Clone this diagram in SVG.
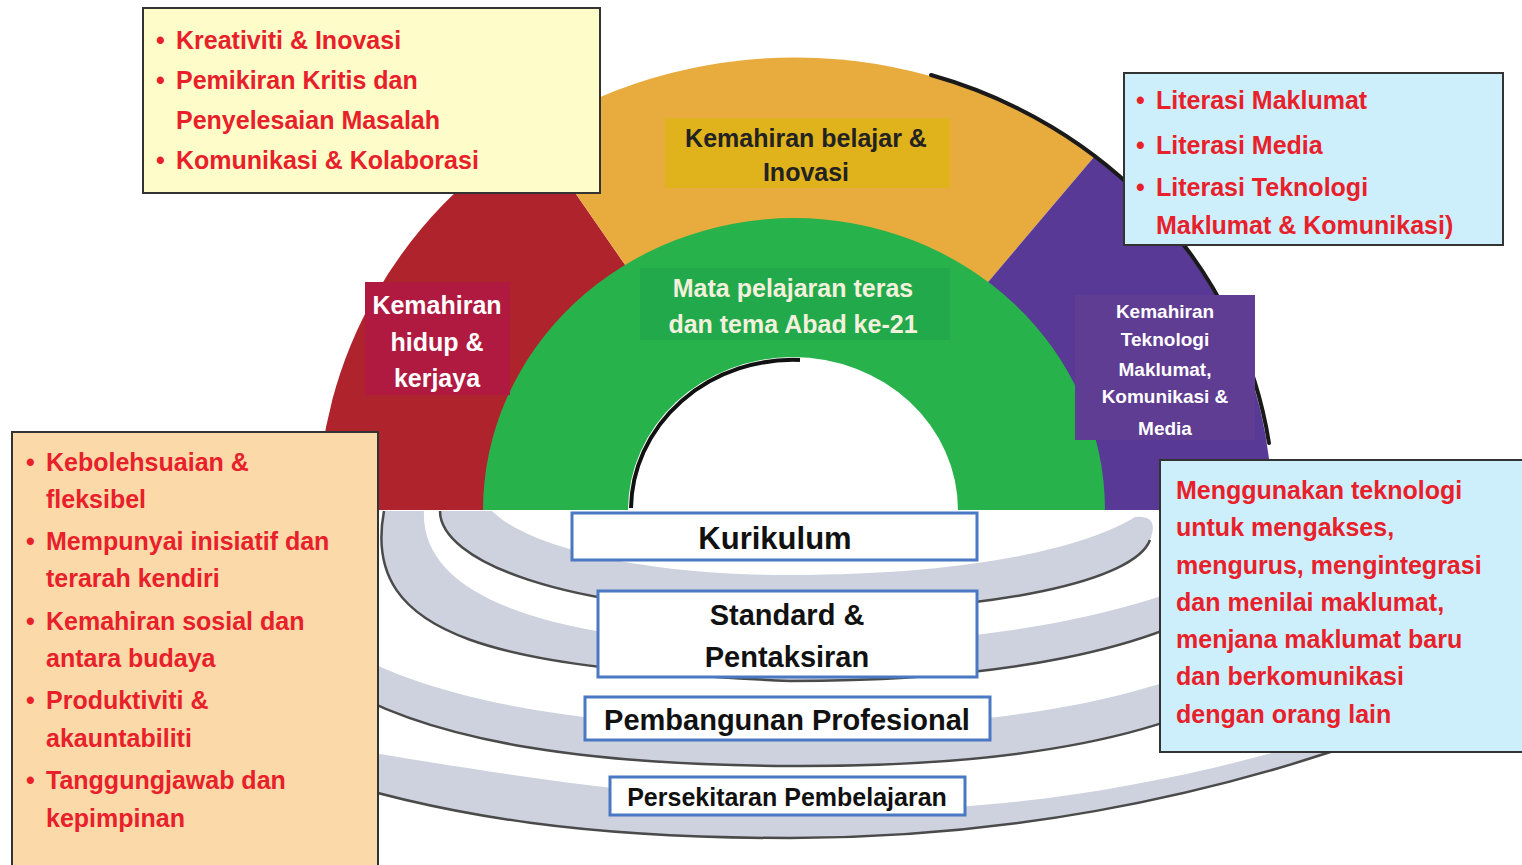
<svg xmlns="http://www.w3.org/2000/svg" width="1522" height="865" viewBox="0 0 1522 865">
<style>
.red{font-family:"Liberation Sans",Arial,sans-serif;font-weight:bold;font-size:25px;fill:#e8202a}
.lbl{font-family:"Liberation Sans",Arial,sans-serif;font-weight:bold;text-anchor:middle}
.ring{fill:#cdd2de}
.redge{fill:none;stroke:#4a4a4a;stroke-width:2.5}
.side{stroke:#333;stroke-width:2}
.cbox{fill:#fff;stroke:#4a78c2;stroke-width:3}
.ctxt{font-family:"Liberation Sans",Arial,sans-serif;font-weight:bold;text-anchor:middle;fill:#111}
</style>
<rect width="1522" height="865" fill="#fff"/>

<g id="rings">
  <path class="ring" d="M 440,511 C 440,560 560,612 790,612 C 1000,612 1135,580 1150,540 Q 1160,515 1135,517 C 1090,545 980,575 790,575 C 620,575 520,540 492,511 Z"/>
  <path class="redge" d="M 440,511 C 440,560 560,612 790,612 C 1000,612 1135,580 1150,540"/>
  <path class="ring" d="M 384,511 C 360,640 500,668 790,681 C 1000,681 1160,650 1240,590 L 1240,560 C 1160,610 1000,645 790,645 C 560,645 420,600 424,511 Z"/>
  <path class="redge" d="M 384,511 C 360,640 500,668 790,681 C 1000,681 1160,650 1240,590"/>
  <path class="ring" d="M 330,680 C 430,745 600,765 790,766 C 1000,767 1150,740 1240,690 L 1240,650 C 1150,700 1000,728 790,728 C 600,728 430,705 330,640 Z"/>
  <path class="redge" d="M 330,680 C 430,745 600,765 790,766 C 1000,767 1150,740 1240,690"/>
  <path class="ring" d="M 300,770 C 450,820 600,838 790,838 C 1000,838 1200,800 1380,735 L 1375,722 C 1230,770 1060,808 880,810 C 650,800 470,770 300,740 Z"/>
  <path class="redge" d="M 300,770 C 450,820 600,838 790,838 C 1000,838 1200,800 1380,735"/>
</g>

<g id="arch">
  <path id="sector-red" d="M 795,510 L 318,510 A 477 452 0 0 1 533,132 Z" fill="#af232d"/>
  <path id="sector-yellow" d="M 795,510 L 533,132 A 477 452 0 0 1 1094,157 Z" fill="#e8ac3e"/>
  <path id="sector-purple" d="M 795,510 L 1094,157 A 477 452 0 0 1 1272,510 Z" fill="#583a96"/>
  <path d="M 931,75 A 479 454 0 0 1 1269,443" fill="none" stroke="#1a1a1a" stroke-width="4" stroke-linecap="round"/>
  <path id="ring-green" d="M 483,510 A 311 292 0 0 1 1105,510 Z" fill="#28b24b"/>
  <path d="M 628,510 A 165 153 0 0 1 958,510 Z" fill="#fff"/>
  <path d="M 631,508 A 162 150 0 0 1 800,360" fill="none" stroke="#111" stroke-width="4"/>
</g>

<g id="label-hidup">
  <rect x="365" y="282" width="145" height="113" fill="#b01a40"/>
  <text class="lbl" font-size="25" fill="#fff"><tspan x="437" y="314">Kemahiran</tspan><tspan x="437" y="351">hidup &amp;</tspan><tspan x="437" y="387">kerjaya</tspan></text>
</g>
<g id="label-belajar">
  <rect x="665" y="118" width="285" height="70" fill="#e0b21c"/>
  <text class="lbl" font-size="25" fill="#222"><tspan x="806" y="147">Kemahiran belajar &amp;</tspan><tspan x="806" y="181">Inovasi</tspan></text>
</g>
<g id="label-teras">
  <rect x="640" y="268" width="310" height="72" fill="#22a94c"/>
  <text class="lbl" font-size="25" fill="#f3f1dc"><tspan x="793" y="297">Mata pelajaran teras</tspan><tspan x="793" y="333">dan tema Abad ke-21</tspan></text>
</g>
<g id="label-tmk">
  <rect x="1075" y="295" width="180" height="145" fill="#5f3d93"/>
  <text class="lbl" font-size="19" fill="#fff"><tspan x="1165" y="318">Kemahiran</tspan><tspan x="1165" y="346">Teknologi</tspan><tspan x="1165" y="376">Maklumat,</tspan><tspan x="1165" y="403">Komunikasi &amp;</tspan><tspan x="1165" y="435">Media</tspan></text>
</g>

<g id="box-kurikulum">
  <rect class="cbox" x="572" y="513" width="405" height="47"/>
  <text class="ctxt" x="775" y="549" font-size="31">Kurikulum</text>
</g>
<g id="box-standard">
  <rect class="cbox" x="598" y="591" width="379" height="86"/>
  <text class="ctxt" font-size="29"><tspan x="787" y="625">Standard &amp;</tspan><tspan x="787" y="667">Pentaksiran</tspan></text>
</g>
<g id="box-profesional">
  <rect class="cbox" x="585" y="697" width="405" height="43"/>
  <text class="ctxt" x="787" y="730" font-size="29">Pembangunan Profesional</text>
</g>
<g id="box-persekitaran">
  <rect class="cbox" x="610" y="777" width="355" height="38"/>
  <text class="ctxt" x="787" y="806" font-size="25">Persekitaran Pembelajaran</text>
</g>

<g id="box-belajar-list">
  <rect class="side" x="143" y="8" width="457" height="185" fill="#fefcc9"/>
  <text class="red" x="156" y="49">•</text><text class="red" x="176" y="49">Kreativiti &amp; Inovasi</text>
  <text class="red" x="156" y="89">•</text><text class="red" x="176" y="89">Pemikiran Kritis dan</text>
  <text class="red" x="176" y="129">Penyelesaian Masalah</text>
  <text class="red" x="156" y="169">•</text><text class="red" x="176" y="169">Komunikasi &amp; Kolaborasi</text>
</g>

<g id="box-literasi">
  <rect class="side" x="1124" y="73" width="379" height="172" fill="#cdeefb"/>
  <text class="red" x="1136" y="109">•</text><text class="red" x="1156" y="109">Literasi Maklumat</text>
  <text class="red" x="1136" y="154">•</text><text class="red" x="1156" y="154">Literasi Media</text>
  <text class="red" x="1136" y="196">•</text><text class="red" x="1156" y="196">Literasi Teknologi</text>
  <text class="red" x="1156" y="234">Maklumat &amp; Komunikasi)</text>
</g>

<g id="box-hidup-list">
  <rect class="side" x="12" y="432" width="366" height="440" fill="#fcd9a9"/>
  <text class="red" x="26" y="471">•</text><text class="red" x="46" y="471">Kebolehsuaian &amp;</text>
  <text class="red" x="46" y="508">fleksibel</text>
  <text class="red" x="26" y="550">•</text><text class="red" x="46" y="550">Mempunyai inisiatif dan</text>
  <text class="red" x="46" y="587">terarah kendiri</text>
  <text class="red" x="26" y="630">•</text><text class="red" x="46" y="630">Kemahiran sosial dan</text>
  <text class="red" x="46" y="667">antara budaya</text>
  <text class="red" x="26" y="709">•</text><text class="red" x="46" y="709">Produktiviti &amp;</text>
  <text class="red" x="46" y="747">akauntabiliti</text>
  <text class="red" x="26" y="789">•</text><text class="red" x="46" y="789">Tanggungjawab dan</text>
  <text class="red" x="46" y="827">kepimpinan</text>
</g>

<g id="box-tmk-desc">
  <rect class="side" x="1160" y="460" width="370" height="292" fill="#cdeefb"/>
  <text class="red" x="1176" y="499">Menggunakan teknologi</text>
  <text class="red" x="1176" y="536">untuk mengakses,</text>
  <text class="red" x="1176" y="574">mengurus, mengintegrasi</text>
  <text class="red" x="1176" y="611">dan menilai maklumat,</text>
  <text class="red" x="1176" y="648">menjana maklumat baru</text>
  <text class="red" x="1176" y="685">dan berkomunikasi</text>
  <text class="red" x="1176" y="723">dengan orang lain</text>
</g>
</svg>
